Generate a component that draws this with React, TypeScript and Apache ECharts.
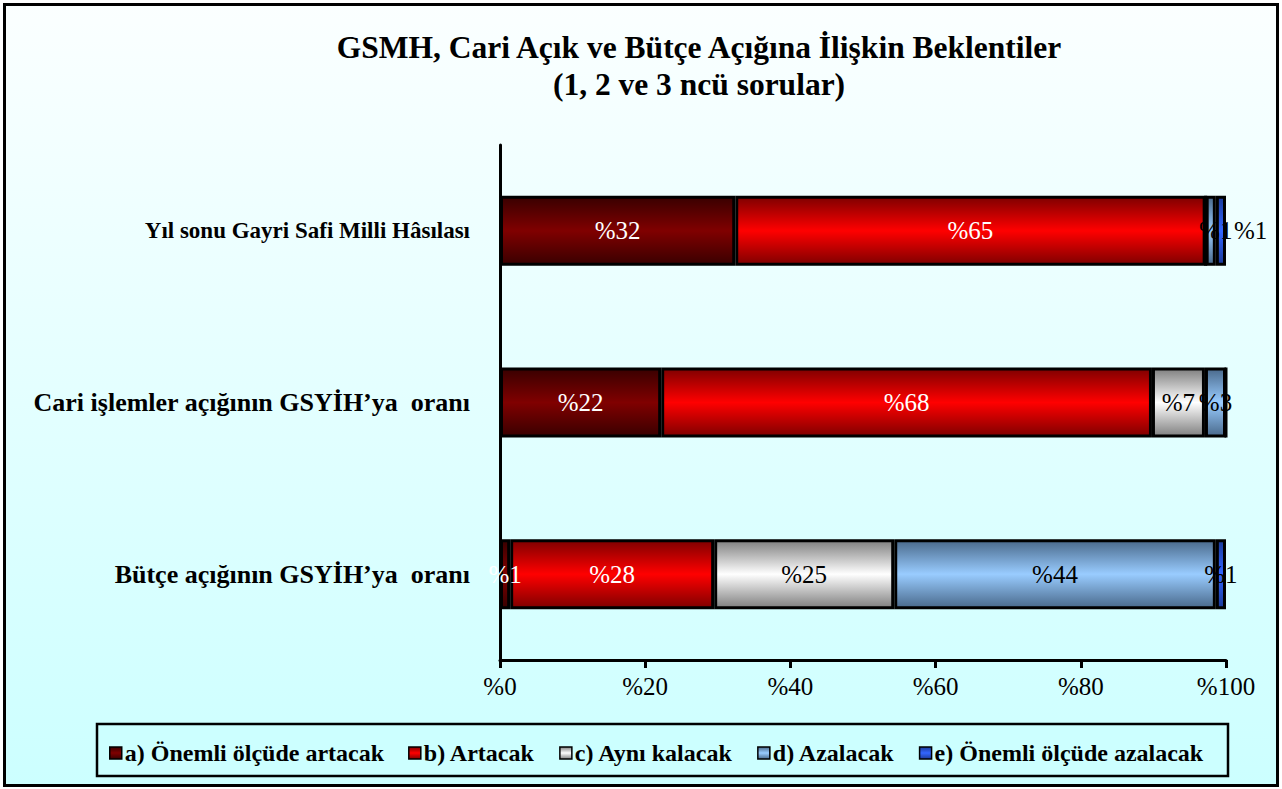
import React, { useEffect, useRef } from "react";
import * as echarts from "echarts";

const categories = [
  "Yıl sonu Gayri Safi Milli Hâsılası",
  "Cari işlemler açığının GSYİH’ya  oranı",
  "Bütçe açığının GSYİH’ya  oranı",
];
const seriesNames = [
  "a) Önemli ölçüde artacak",
  "b) Artacak",
  "c) Aynı kalacak",
  "d) Azalacak",
  "e) Önemli ölçüde azalacak",
];
const valuesA = [32.4, 22.2, 1.4];
const valuesB = [64.8, 67.6, 28.1];
const valuesC = [0, 7.3, 24.8];
const valuesD = [1.4, 2.9, 44.3];
const valuesE = [1.4, 0, 1.4];
const xTicks = [0, 20, 40, 60, 80, 100];

const FONT = "Liberation Serif";

const grad = (edge: string, mid: string) => ({
  type: "linear",
  x: 0,
  y: 0,
  x2: 0,
  y2: 1,
  colorStops: [
    { offset: 0, color: edge },
    { offset: 0.5, color: mid },
    { offset: 1, color: edge },
  ],
});

const fills = [
  grad("#3a0000", "#800000"),
  grad("#800000", "#ff0000"),
  grad("#808080", "#ffffff"),
  grad("#4a6a8c", "#99ccff"),
  grad("#1c3a99", "#3366ff"),
];
const labelColors = ["#ffffff", "#ffffff", "#000000", "#000000", "#000000"];

export default function App() {
  const ref = useRef<HTMLDivElement>(null);
  useEffect(() => {
    document.body.style.margin = "0";
    if (!ref.current) return;
    const chart = echarts.init(ref.current, null, { renderer: "svg" });
    const all = [valuesA, valuesB, valuesC, valuesD, valuesE];
    const series = all.map((vals, si) => ({
      name: seriesNames[si],
      type: "bar",
      stack: "total",
      barWidth: 70,
      itemStyle: { color: fills[si], borderColor: "#000", borderWidth: 3 },
      label: {
        show: true,
        position: "inside",
        color: labelColors[si],
        fontFamily: FONT,
        fontSize: 25,
        formatter: (p: any) => (p.value > 0 ? "%" + Math.round(p.value) : ""),
      },
      data: vals.map((v, i) => {
        if (si === 3 && i === 0) return { value: v, label: { offset: [5, 0] } };
        if (si === 4 && i === 0)
          return { value: v, label: { position: "right", distance: 8 } };
        return v;
      }),
    }));

    chart.setOption({
      animation: false,
      title: {
        text: "GSMH, Cari Açık ve Bütçe Açığına İlişkin Beklentiler\n(1, 2 ve 3 ncü sorular)",
        left: 694,
        top: 24,
        textAlign: "center",
        textStyle: {
          fontFamily: FONT,
          fontSize: 31.5,
          fontWeight: "bold",
          color: "#000",
          lineHeight: 37,
        },
      },
      graphic: [
        {
          type: "rect",
          z: -10,
          shape: { x: 4.5, y: 4.5, width: 1273, height: 781 },
          style: {
            fill: {
              type: "linear",
              x: 0,
              y: 0,
              x2: 0,
              y2: 1,
              colorStops: [
                { offset: 0, color: "#fbffff" },
                { offset: 1, color: "#ccffff" },
              ],
            },
            stroke: "#000",
            lineWidth: 3,
          },
        },
        {
          type: "rect",
          z: 3,
          shape: { x: 97, y: 724, width: 1131, height: 52 },
          style: { fill: "#ccffff", stroke: "#000", lineWidth: 2.5 },
        },
      ],
      legend: {
        left: 104,
        top: 736,
        itemGap: 24,
        itemWidth: 12,
        itemHeight: 12,
        icon: "rect",
        itemStyle: { borderColor: "#000", borderWidth: 1.5 },
        textStyle: {
          fontFamily: FONT,
          fontSize: 24,
          fontWeight: "bold",
          color: "#000",
          padding: [0, 0, 0, -2],
        },
        data: seriesNames,
      },
      grid: { left: 500, right: 56, top: 145, bottom: 129, containLabel: false },
      xAxis: {
        type: "value",
        min: xTicks[0],
        max: xTicks[xTicks.length - 1],
        interval: 20,
        axisLine: { show: true, lineStyle: { color: "#000", width: 3 } },
        axisTick: { show: true, length: 8, lineStyle: { color: "#000", width: 3 } },
        splitLine: { show: false },
        axisLabel: {
          color: "#000",
          fontFamily: FONT,
          fontSize: 25,
          margin: 14,
          formatter: (v: number) => "%" + v,
        },
      },
      yAxis: {
        type: "category",
        inverse: true,
        data: categories,
        axisLine: { show: true, lineStyle: { color: "#000", width: 3 } },
        axisTick: { show: false },
        axisLabel: {
          color: "#000",
          fontFamily: FONT,
          fontSize: 23,
          fontWeight: "bold",
          margin: 30,
          formatter: (v: string, i: number) => (i === 0 ? `{s|${v}}` : `{b|${v}}`),
          rich: {
            s: { fontFamily: FONT, fontSize: 23, fontWeight: "bold", color: "#000" },
            b: { fontFamily: FONT, fontSize: 26, fontWeight: "bold", color: "#000" },
          },
        },
      },
      series,
    });
    return () => chart.dispose();
  }, []);
  return <div ref={ref} style={{ width: 1282, height: 789 }} />;
}
